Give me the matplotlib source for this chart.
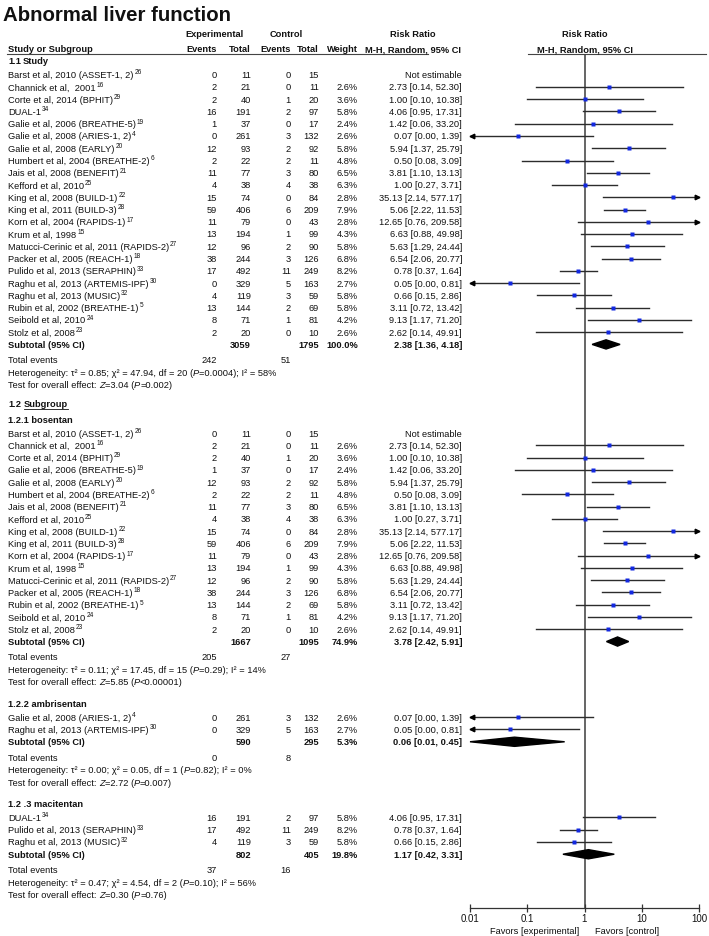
import matplotlib
matplotlib.use('Agg')
import matplotlib.pyplot as plt
from matplotlib.ticker import NullLocator

plt.rcParams['font.family'] = ['Liberation Sans', 'DejaVu Sans']

# ---------------- data ----------------
study_names = ["Barst et al, 2010 (ASSET-1, 2)", "Channick et al,  2001", "Corte et al, 2014 (BPHIT)",
               "DUAL-1", "Galie et al, 2006 (BREATHE-5)", "Galie et al, 2008 (ARIES-1, 2)",
               "Galie et al, 2008 (EARLY)", "Humbert et al, 2004 (BREATHE-2)", "Jais et al, 2008 (BENEFIT)",
               "Kefford et al, 2010", "King et al, 2008 (BUILD-1)", "King et al, 2011 (BUILD-3)",
               "Korn et al, 2004 (RAPIDS-1)", "Krum et al, 1998", "Matucci-Cerinic et al, 2011 (RAPIDS-2)",
               "Packer et al, 2005 (REACH-1)", "Pulido et al, 2013 (SERAPHIN)", "Raghu et al, 2013 (ARTEMIS-IPF)",
               "Raghu et al, 2013 (MUSIC)", "Rubin et al, 2002 (BREATHE-1)", "Seibold et al, 2010",
               "Stolz et al, 2008"]
study_refs = [26, 16, 29, 34, 19, 4, 20, 6, 21, 25, 22, 28, 17, 15, 27, 18, 33, 30, 32, 5, 24, 23]
exp_events = [0, 2, 2, 16, 1, 0, 12, 2, 11, 4, 15, 59, 11, 13, 12, 38, 17, 0, 4, 13, 8, 2]
exp_total = [11, 21, 40, 191, 37, 261, 93, 22, 77, 38, 74, 406, 79, 194, 96, 244, 492, 329, 119, 144, 71, 20]
ctl_events = [0, 0, 1, 2, 0, 3, 2, 2, 3, 4, 0, 6, 0, 1, 2, 3, 11, 5, 3, 2, 1, 0]
ctl_total = [15, 11, 20, 97, 17, 132, 92, 11, 80, 38, 84, 209, 43, 99, 90, 126, 249, 163, 59, 69, 81, 10]
weights = [None, 2.6, 3.6, 5.8, 2.4, 2.6, 5.8, 4.8, 6.5, 6.3, 2.8, 7.9, 2.8, 4.3, 5.8, 6.8, 8.2, 2.7, 5.8,
           5.8, 4.2, 2.6]
rr = [None, 2.73, 1.00, 4.06, 1.42, 0.07, 5.94, 0.50, 3.81, 1.00, 35.13, 5.06, 12.65, 6.63, 5.63, 6.54,
      0.78, 0.05, 0.66, 3.11, 9.13, 2.62]
rr_lo = [None, 0.14, 0.10, 0.95, 0.06, 0.00, 1.37, 0.08, 1.10, 0.27, 2.14, 2.22, 0.76, 0.88, 1.29, 2.06,
         0.37, 0.00, 0.15, 0.72, 1.17, 0.14]
rr_hi = [None, 52.30, 10.38, 17.31, 33.20, 1.39, 25.79, 3.09, 13.13, 3.71, 577.17, 11.53, 209.58, 49.98,
         24.44, 20.77, 1.64, 0.81, 2.86, 13.42, 71.20, 49.91]

subgroup_titles = ["1.2.1 bosentan", "1.2.2 ambrisentan", "1.2 .3 macitentan"]
subgroup_members = [[0, 1, 2, 4, 6, 7, 8, 9, 10, 11, 12, 13, 14, 15, 19, 20, 21], [5, 17], [3, 16, 18]]

# pooled rows: overall, bosentan, ambrisentan, macitentan
pool_exp_total = [3059, 1667, 590, 802]
pool_ctl_total = [1795, 1095, 295, 405]
pool_weight = [100.0, 74.9, 5.3, 19.8]
pool_rr = [2.38, 3.78, 0.06, 1.17]
pool_lo = [1.36, 2.42, 0.01, 0.42]
pool_hi = [4.18, 5.91, 0.45, 3.31]
pool_exp_events = [242, 205, 0, 37]
pool_ctl_events = [51, 27, 8, 16]
het_tau2 = [0.85, 0.11, 0.00, 0.47]
het_chi2 = [47.94, 17.45, 0.05, 4.54]
het_df = [20, 15, 1, 2]
het_p = ["0.0004", "0.29", "0.82", "0.10"]
het_i2 = [58, 14, 0, 56]
test_z = [3.04, 5.85, 2.72, 0.30]
test_p = ["=0.002", "<0.00001", "=0.007", "=0.76"]

axis_ticks = [0.01, 0.1, 1, 10, 100]
axis_ticklabels = ["0.01", "0.1", "1", "10", "100"]

# ---------------- figure ----------------
W, H = 709, 936
fig = plt.figure(figsize=(W / 100, H / 100), dpi=100)
ax = fig.add_axes([0, 0, 1, 1])
ax.set_xlim(0, W)
ax.set_ylim(H, 0)
ax.axis('off')

X0, X1 = 470, 699
fx = fig.add_axes([X0 / W, 0, (X1 - X0) / W, 1])
fx.set_xscale('log')
fx.set_xlim(0.01, 100)
fx.set_ylim(H, 0)
fx.patch.set_alpha(0)
for s in ['top', 'right', 'left']:
    fx.spines[s].set_visible(False)
fx.spines['bottom'].set_position(('data', 908))
fx.spines['bottom'].set_linewidth(0.9)
fx.spines['bottom'].set_color('#333333')
fx.set_yticks([])
fx.set_xticks(axis_ticks)
fx.set_xticklabels(axis_ticklabels)
fx.xaxis.set_minor_locator(NullLocator())
fx.tick_params(axis='x', direction='inout', length=6, width=0.9, color='#333333',
               labelsize=7, pad=1.5, labelcolor='#111111')

FS = 6.7
SUP_FS = 4.7
TC = '#111111'
XN, XEE, XET, XCE, XCT, XW, XRR = 8, 217, 251, 291, 319, 358, 462
XHDR_RR = 413
BASE = 3.4  # baseline offset from visual centre

renderer = fig.canvas.get_renderer()
inv = ax.transData.inverted()


def txt(x, y, s, ha='left', bold=False, size=FS, **kw):
    return ax.text(x, y + BASE, s, ha=ha, va='baseline', fontsize=size,
                   fontweight='bold' if bold else 'normal', color=TC, **kw)


def right_edge(t):
    bb = t.get_window_extent(renderer)
    return inv.transform([[bb.x1, bb.y0]])[0][0]


# title
ax.text(3, 21, "Abnormal liver function", ha='left', va='baseline', fontsize=14.7,
        fontweight='bold', color=TC)

# headers
txt(215, 34, "Experimental", ha='center', bold=True)
txt(286, 34, "Control", ha='center', bold=True)
txt(XHDR_RR, 34, "Risk Ratio", ha='center', bold=True)
txt(585, 34, "Risk Ratio", ha='center', bold=True)
txt(XN, 49, "Study or Subgroup", bold=True)
txt(XEE, 49, "Events", ha='right', bold=True)
txt(XET, 49, "Total", ha='right', bold=True)
txt(XCE, 49, "Events", ha='right', bold=True)
txt(XCT, 49, "Total", ha='right', bold=True)
txt(XW, 49, "Weight", ha='right', bold=True)
txt(XHDR_RR, 49, "M-H, Random, 95% CI", ha='center', bold=True)
txt(585, 49, "M-H, Random, 95% CI", ha='center', bold=True)
ax.plot([7, 428], [53.8, 53.8], color='#444444', lw=0.8)
ax.plot([528, 706], [53.8, 53.8], color='#444444', lw=0.8)

# reference line at RR = 1
fx.plot([1, 1], [55, 908], color='#3c3c3c', lw=1.1, zorder=1)

LINE_C = '#2c2c2c'
PT_C = '#1228e0'


def draw_study(i, y):
    t = txt(XN, y, study_names[i])
    xe = right_edge(t)
    ax.text(xe + 1.0, y + BASE - 3.6, str(study_refs[i]), ha='left', va='baseline',
            fontsize=SUP_FS, color=TC)
    txt(XEE, y, str(exp_events[i]), ha='right')
    txt(XET, y, str(exp_total[i]), ha='right')
    txt(XCE, y, str(ctl_events[i]), ha='right')
    txt(XCT, y, str(ctl_total[i]), ha='right')
    if rr[i] is None:
        txt(XRR, y, "Not estimable", ha='right')
        return
    txt(XW, y, "%.1f%%" % weights[i], ha='right')
    txt(XRR, y, "%.2f [%.2f, %.2f]" % (rr[i], rr_lo[i], rr_hi[i]), ha='right')
    lo = max(rr_lo[i], 0.01)
    hi = min(rr_hi[i], 100)
    fx.plot([lo, hi], [y, y], color=LINE_C, lw=1.0, zorder=2, clip_on=False)
    if rr_lo[i] < 0.01:
        fx.plot([0.0107], [y], marker='<', ms=3.3, color='k', mec='k', zorder=3, clip_on=False)
    if rr_hi[i] > 100:
        fx.plot([93], [y], marker='>', ms=3.3, color='k', mec='k', zorder=3, clip_on=False)
    fx.plot([rr[i]], [y], marker='s', ms=2.4 + 0.03 * weights[i], color=PT_C, mec='none',
            zorder=4, snap=False)


def italic_line(y, parts):
    """parts: list of (string, italic) drawn left to right"""
    x = XN
    for s, it in parts:
        t = ax.text(x, y + BASE, s, ha='left', va='baseline', fontsize=FS, color=TC,
                    fontstyle='italic' if it else 'normal')
        x = right_edge(t)


def draw_pool(k, y0):
    y = y0
    txt(XN, y, "Subtotal (95% CI)", bold=True)
    txt(XET, y, str(pool_exp_total[k]), ha='right', bold=True)
    txt(XCT, y, str(pool_ctl_total[k]), ha='right', bold=True)
    txt(XW, y, "%.1f%%" % pool_weight[k], ha='right', bold=True)
    txt(XRR, y, "%.2f [%.2f, %.2f]" % (pool_rr[k], pool_lo[k], pool_hi[k]), ha='right', bold=True)
    h = 4.6
    fx.fill([pool_lo[k], pool_rr[k], pool_hi[k], pool_rr[k]], [y, y - h, y, y + h],
            color='k', zorder=3, clip_on=False)
    y += 15.5
    txt(XN, y, "Total events")
    txt(XEE, y, str(pool_exp_events[k]), ha='right')
    txt(XCE, y, str(pool_ctl_events[k]), ha='right')
    y += 12.5
    italic_line(y, [("Heterogeneity: τ² = %.2f; χ² = %.2f, df = %d (" % (het_tau2[k], het_chi2[k], het_df[k]), False),
                    ("P", True),
                    ("=%s); I² = %d%%" % (het_p[k], het_i2[k]), False)])
    y += 12.5
    italic_line(y, [("Test for overall effect: ", False), ("Z", True),
                    ("=%.2f (" % test_z[k], False), ("P", True), ("%s)" % test_p[k], False)])
    return y


PITCH = 12.26

y = 61.0
txt(XN, y, "1.1", bold=True)
txt(23, y, "Study", bold=True)
y += 13.7
for i in range(len(study_names)):
    draw_study(i, y)
    y += PITCH
y = draw_pool(0, y)
y += 19
txt(XN, y, "1.2", bold=True)
t_sub = txt(24, y, "Subgroup", bold=True)
bb = t_sub.get_window_extent(renderer)
xa = inv.transform([[bb.x0, bb.y0]])[0][0]
xb = inv.transform([[bb.x1, bb.y0]])[0][0]
ax.plot([xa, xb], [y + BASE + 1.4, y + BASE + 1.4], color=TC, lw=0.6)
y += 15.5
for g, title in enumerate(subgroup_titles):
    txt(XN, y, title, bold=True)
    y += 13.7
    for i in subgroup_members[g]:
        draw_study(i, y)
        y += PITCH
    y = draw_pool(g + 1, y)
    y += 21.5

# favours labels
ax.text(579, 931, "Favors [experimental]", ha='right', va='center', fontsize=FS, color=TC)
ax.text(595, 931, "Favors [control]", ha='left', va='center', fontsize=FS, color=TC)

fig.savefig('out.png', dpi=100)
